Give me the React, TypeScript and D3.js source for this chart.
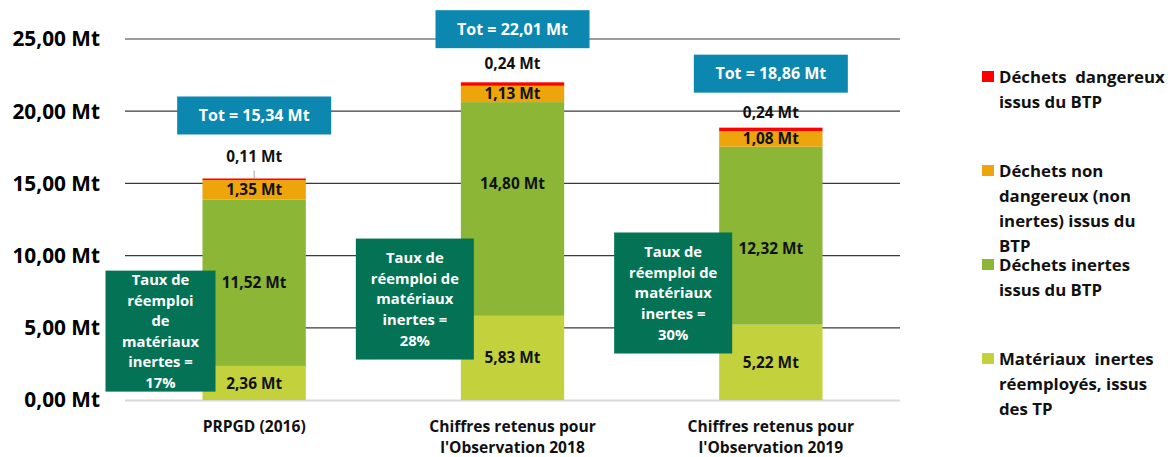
import React, { useEffect, useRef } from "react";
import * as d3 from "d3";

// categories (x axis), each label split over lines
const categories = ["PRPGD (2016)", "Observation 2018", "Observation 2019"];
const categoryLines = [
  ["PRPGD (2016)"],
  ["Chiffres retenus pour", "l'Observation 2018"],
  ["Chiffres retenus pour", "l'Observation 2019"],
];

// series values, in Mt, bottom to top of each stack
const reemployes = [2.36, 5.83, 5.22];
const inertes = [11.52, 14.8, 12.32];
const nonDangereux = [1.35, 1.13, 1.08];
const dangereux = [0.11, 0.24, 0.24];
const totals = [15.34, 22.01, 18.86];
const reuseRates = [17, 28, 30];

const seriesKeys = ["reemployes", "inertes", "nonDangereux", "dangereux"];
const seriesNames = [
  ["Matériaux  inertes", "réemployés, issus", "des TP"],
  ["Déchets inertes", "issus du BTP"],
  ["Déchets non", "dangereux (non", "inertes) issus du", "BTP"],
  ["Déchets  dangereux", "issus du BTP"],
];
const seriesColors = ["#c3d13c", "#8cb636", "#eea40b", "#ff0000"];

const yTicks = [0, 5, 10, 15, 20, 25];
const reuseLines = [
  ["Taux de", "réemploi", "de", "matériaux", "inertes =", `${reuseRates[0]}%`],
  ["Taux de", "réemploi de", "matériaux", "inertes =", `${reuseRates[1]}%`],
  ["Taux de", "réemploi de", "matériaux", "inertes =", `${reuseRates[2]}%`],
];

// hand-placed annotations (as in the original workbook)
const reuseBoxTop = [8.96, 11.18, 11.6]; // in Mt
const reuseBoxWidth = [110, 118, 118];
const totGap = [44, 34, 35];
const dangerGap = [22, 19, 15];
const inertesShift = [0, -26, 13];

const fmt = (v: number) => v.toFixed(2).replace(".", ",") + " Mt";
const FONT = "'Open Sans', Lato, sans-serif";

export default function App() {
  const ref = useRef<SVGSVGElement>(null);

  useEffect(() => {
    const W = 1172, H = 457;
    const svg = d3.select(ref.current);
    svg.selectAll("*").remove();
    svg.attr("width", W).attr("height", H).style("font-family", FONT);

    const x0 = 125, x1 = 900;
    const x = d3.scaleBand().domain(categories).range([x0, x1]).paddingInner(0.6).paddingOuter(0.3);
    const y = d3.scaleLinear().domain([0, 25]).range([400, 39]);

    // grid + y labels
    svg.append("g")
      .selectAll("line")
      .data(yTicks.filter((t) => t > 0))
      .join("line")
      .attr("x1", x0).attr("x2", x1)
      .attr("y1", (d) => y(d)).attr("y2", (d) => y(d))
      .attr("stroke", "#3a3a3a").attr("stroke-width", 1.2);

    svg.append("line")
      .attr("x1", x0).attr("x2", x1).attr("y1", y(0) + 0.5).attr("y2", y(0) + 0.5)
      .attr("stroke", "#d9d9d9").attr("stroke-width", 2);

    svg.append("g")
      .selectAll("text")
      .data(yTicks)
      .join("text")
      .attr("x", 100).attr("y", (d) => y(d))
      .attr("dy", "0.36em")
      .attr("text-anchor", "end")
      .attr("font-size", 20.8).attr("font-weight", 700).attr("fill", "#000")
      .text((d) => fmt(d));

    // stacked bars
    const table = categories.map((c, i) => ({
      cat: c,
      reemployes: reemployes[i],
      inertes: inertes[i],
      nonDangereux: nonDangereux[i],
      dangereux: dangereux[i],
    }));
    const stack = d3.stack<any>().keys(seriesKeys)(table);

    const layers = svg.append("g")
      .selectAll("g")
      .data(stack)
      .join("g")
      .attr("fill", (d, i) => seriesColors[i]);

    layers.selectAll("rect")
      .data((d) => d)
      .join("rect")
      .attr("x", (d: any) => x(d.data.cat)!)
      .attr("width", x.bandwidth())
      .attr("y", (d) => y(d[1]))
      .attr("height", (d) => y(d[0]) - y(d[1]));

    // inside labels (three lower series)
    stack.slice(0, 3).forEach((layer, si) => {
      svg.append("g")
        .selectAll("text")
        .data(layer)
        .join("text")
        .attr("x", (d: any) => x(d.data.cat)! + x.bandwidth() / 2)
        .attr("y", (d, i) => (y(d[0]) + y(d[1])) / 2 + (si === 1 ? inertesShift[i] : 0))
        .attr("dy", "0.36em")
        .attr("text-anchor", "middle")
        .attr("font-size", 15.4).attr("font-weight", 700).attr("fill", "#111")
        .text((d: any) => fmt(d.data[seriesKeys[si]]));
    });

    // hazardous labels above the stacks
    const top = stack[3];
    svg.append("g")
      .selectAll("text")
      .data(top)
      .join("text")
      .attr("x", (d: any) => x(d.data.cat)! + x.bandwidth() / 2)
      .attr("y", (d, i) => y(d[1]) - dangerGap[i])
      .attr("dy", "0.36em")
      .attr("text-anchor", "middle")
      .attr("font-size", 15.4).attr("font-weight", 700).attr("fill", "#111")
      .text((d: any) => fmt(d.data.dangereux));

    svg.append("line")
      .attr("x1", x(categories[0])! + x.bandwidth() / 2)
      .attr("x2", x(categories[0])! + x.bandwidth() / 2)
      .attr("y1", y(top[0][1]) - 8).attr("y2", y(top[0][1]))
      .attr("stroke", "#a6a6a6").attr("stroke-width", 1);

    // total boxes
    const tot = svg.append("g")
      .selectAll("g")
      .data(totals)
      .join("g")
      .attr("transform", (d, i) =>
        `translate(${x(categories[i])! + x.bandwidth() / 2},${y(d) - totGap[i] - 19})`);
    tot.append("rect")
      .attr("x", -77).attr("y", -19).attr("width", 154).attr("height", 38)
      .attr("fill", "#0b87b0");
    tot.append("text")
      .attr("text-anchor", "middle").attr("dy", "0.36em")
      .attr("font-size", 16).attr("font-weight", 700).attr("fill", "#fff")
      .text((d) => `Tot = ${fmt(d)}`);

    // reuse-rate boxes
    const reuse = svg.append("g")
      .selectAll("g")
      .data(reuseLines)
      .join("g")
      .attr("transform", (d, i) =>
        `translate(${x(categories[i])! + 13 - reuseBoxWidth[i]},${y(reuseBoxTop[i])})`);
    reuse.append("rect")
      .attr("width", (d, i) => reuseBoxWidth[i]).attr("height", 121)
      .attr("fill", "#037255");
    reuse.each(function (lines, i) {
      const lh = 20.6;
      const start = 60.5 - ((lines.length - 1) * lh) / 2;
      d3.select(this)
        .selectAll("text")
        .data(lines)
        .join("text")
        .attr("x", reuseBoxWidth[i] / 2)
        .attr("y", (d, k) => start + k * lh)
        .attr("dy", "0.36em")
        .attr("text-anchor", "middle")
        .attr("font-size", 14.8).attr("font-weight", 700).attr("fill", "#fff")
        .text((d) => d);
    });

    // x axis labels
    const xl = svg.append("g")
      .selectAll("g")
      .data(categoryLines)
      .join("g")
      .attr("transform", (d, i) => `translate(${x(categories[i])! + x.bandwidth() / 2},426)`);
    xl.selectAll("text")
      .data((d) => d)
      .join("text")
      .attr("y", (d, k) => k * 21.5)
      .attr("dy", "0.36em")
      .attr("text-anchor", "middle")
      .attr("font-size", 15.6).attr("font-weight", 700).attr("fill", "#111")
      .text((d) => d);

    // legend, top to bottom = hazardous first
    const legendOrder = [3, 2, 1, 0];
    const lg = svg.append("g")
      .selectAll("g")
      .data(legendOrder)
      .join("g")
      .attr("transform", (d, k) => `translate(982,${77 + k * 94})`);
    lg.append("rect")
      .attr("y", -6).attr("width", 12).attr("height", 11)
      .attr("fill", (d) => seriesColors[d]);
    lg.each(function (s) {
      d3.select(this)
        .selectAll("text")
        .data(seriesNames[s])
        .join("text")
        .attr("x", 17)
        .attr("y", (d, k) => k * 25)
        .attr("dy", "0.36em")
        .attr("font-size", 16.8).attr("font-weight", 700).attr("fill", "#111")
        .style("white-space", "pre")
        .text((d) => d);
    });
  }, []);

  return (
    <div style={{ position: "absolute", left: 0, top: 0 }}>
      <svg ref={ref} style={{ display: "block" }}></svg>
    </div>
  );
}
